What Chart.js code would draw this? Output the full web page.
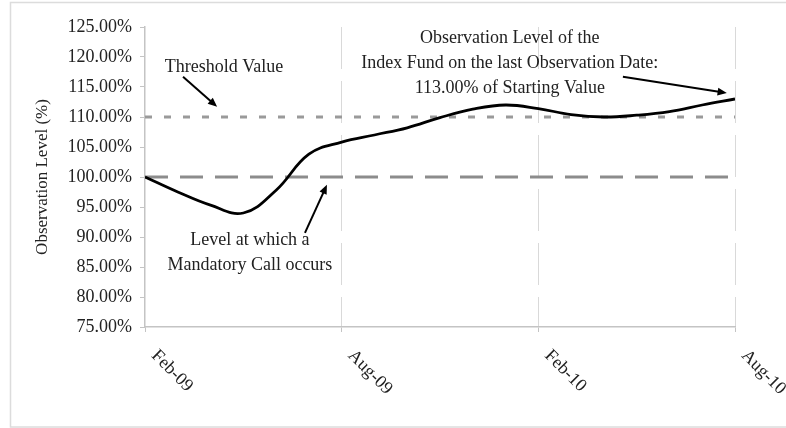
<!DOCTYPE html>
<html>
<head>
<meta charset="utf-8">
<script src="https://cdn.jsdelivr.net/npm/chart.js@4.4.1/dist/chart.umd.min.js"></script>
<style>
body { margin: 0; background: #fff; }
#obscontainer { width: 786px; height: 428px; }
</style>
</head>
<body>
<div id="obscontainer"><canvas id="obschart" width="786" height="428"></canvas></div>
<script>
// monthly observation dates, Feb-09 .. Aug-10
var monthLabels = ['Feb-09','Mar-09','Apr-09','May-09','Jun-09','Jul-09','Aug-09','Sep-09','Oct-09','Nov-09',
  'Dec-09','Jan-10','Feb-10','Mar-10','Apr-10','May-10','Jun-10','Jul-10','Aug-10'];
var observationLevels = [100, 97.5, 95.3, 94.0, 97.8, 103.8, 105.8, 107.0, 108.2, 109.9,
  111.3, 112.0, 111.4, 110.4, 110.0, 110.3, 110.9, 112.0, 113.0];
var thresholdLevel = [110, 110];
var mandatoryCallLevel = [100, 100];
var lineEnds = [0, 18];

var serif = '"Liberation Serif", "Times New Roman", serif';

// annotation texts + arrows, positioned in data units
var notes = [
  { lines: ['Threshold Value'], x: 2.41, y: 118.3 },
  { lines: ['Level at which a', 'Mandatory Call occurs'], x: 3.2, y: 89.5 },
  { lines: ['Observation Level of the', 'Index Fund on the last Observation Date:', '113.00% of Starting Value'], x: 11.13, y: 123.2 }
];
var arrows = [
  { from: [1.16, 116.7], to: [2.2, 111.7] },
  { from: [4.88, 90.7], to: [5.55, 98.7] },
  { from: [14.58, 116.7], to: [17.75, 114.0] }
];

var annotationPlugin = {
  id: 'notes',
  beforeDraw: function(chart) {
    var c = chart.ctx;
    c.save();
    c.strokeStyle = '#dcdcdc';
    c.lineWidth = 1.5;
    c.strokeRect(10.5, 2.5, 800, 424.5);
    c.restore();
  },
  afterDraw: function(chart) {
    var c = chart.ctx, xs = chart.scales.x, ys = chart.scales.y;
    c.save();
    // rotated x tick labels
    c.font = '18px ' + serif;
    c.fillStyle = '#222';
    c.textAlign = 'left';
    c.textBaseline = 'middle';
    xs.ticks.forEach(function(t) {
      var px = xs.getPixelForValue(t.value);
      c.save();
      c.translate(px + 9, ys.bottom + 26);
      c.rotate(Math.PI / 4);
      c.fillText(monthLabels[t.value], 0, 0);
      c.restore();
    });
    // texts
    c.font = '18px ' + serif;
    c.fillStyle = '#222';
    c.textAlign = 'center';
    notes.forEach(function(n) {
      var px = xs.getPixelForValue(n.x), py = ys.getPixelForValue(n.y);
      n.lines.forEach(function(l, i) { c.fillText(l, px, py + i * 25); });
    });
    // arrows
    c.strokeStyle = '#000';
    c.fillStyle = '#000';
    c.lineWidth = 2;
    arrows.forEach(function(a) {
      var x1 = xs.getPixelForValue(a.from[0]), y1 = ys.getPixelForValue(a.from[1]);
      var x2 = xs.getPixelForValue(a.to[0]), y2 = ys.getPixelForValue(a.to[1]);
      var ang = Math.atan2(y2 - y1, x2 - x1), hl = 10;
      c.beginPath();
      c.moveTo(x1, y1);
      c.lineTo(x2 - Math.cos(ang) * hl * 0.8, y2 - Math.sin(ang) * hl * 0.8);
      c.stroke();
      c.beginPath();
      c.moveTo(x2, y2);
      c.lineTo(x2 - hl * Math.cos(ang - 0.4), y2 - hl * Math.sin(ang - 0.4));
      c.lineTo(x2 - hl * Math.cos(ang + 0.4), y2 - hl * Math.sin(ang + 0.4));
      c.closePath();
      c.fill();
    });
    c.restore();
  }
};

var ctx = document.getElementById('obschart').getContext('2d');
var obschart = new Chart(ctx, {
  type: 'line',
  data: {
    datasets: [
      {
        data: observationLevels.map(function(v, i) { return { x: i, y: v }; }),
        borderColor: '#000', borderWidth: 2.8, tension: 0.4, pointRadius: 0
      },
      {
        data: lineEnds.map(function(x, i) { return { x: x, y: thresholdLevel[i] }; }),
        borderColor: '#9a9a9a', borderWidth: 3, borderDash: [7, 12], pointRadius: 0
      },
      {
        data: lineEnds.map(function(x, i) { return { x: x, y: mandatoryCallLevel[i] }; }),
        borderColor: '#8c8c8c', borderWidth: 3, borderDash: [23, 12], pointRadius: 0
      }
    ]
  },
  options: {
    responsive: false,
    animation: false,
    layout: { padding: { left: 28, right: 51, top: 27, bottom: 0 } },
    plugins: { legend: { display: false }, tooltip: { enabled: false } },
    scales: {
      x: {
        type: 'linear', min: 0, max: 18,
        afterFit: function(s) { s.height = 101; },
        ticks: { display: false, stepSize: 6 },
        grid: {
          color: function(g) { return g.index === 0 ? 'rgba(0,0,0,0)' : '#d9d9d9'; },
          tickColor: '#c4c4c4', tickLength: 5, tickBorderDash: []
        },
        border: { color: '#c4c4c4', width: 1.5, dash: [42, 12] }
      },
      y: {
        min: 75, max: 125,
        afterFit: function(s) { s.width = 117; },
        ticks: {
          stepSize: 5, padding: 8, color: '#222',
          font: { family: serif, size: 18 },
          callback: function(v) { return v.toFixed(2) + '%'; }
        },
        grid: { drawOnChartArea: false, tickLength: 5, color: '#c4c4c4' },
        border: { color: '#c4c4c4', width: 1.5 },
        title: { display: true, text: 'Observation Level (%)', color: '#222', font: { family: serif, size: 17 } }
      }
    }
  },
  plugins: [annotationPlugin]
});
</script>
</body>
</html>
